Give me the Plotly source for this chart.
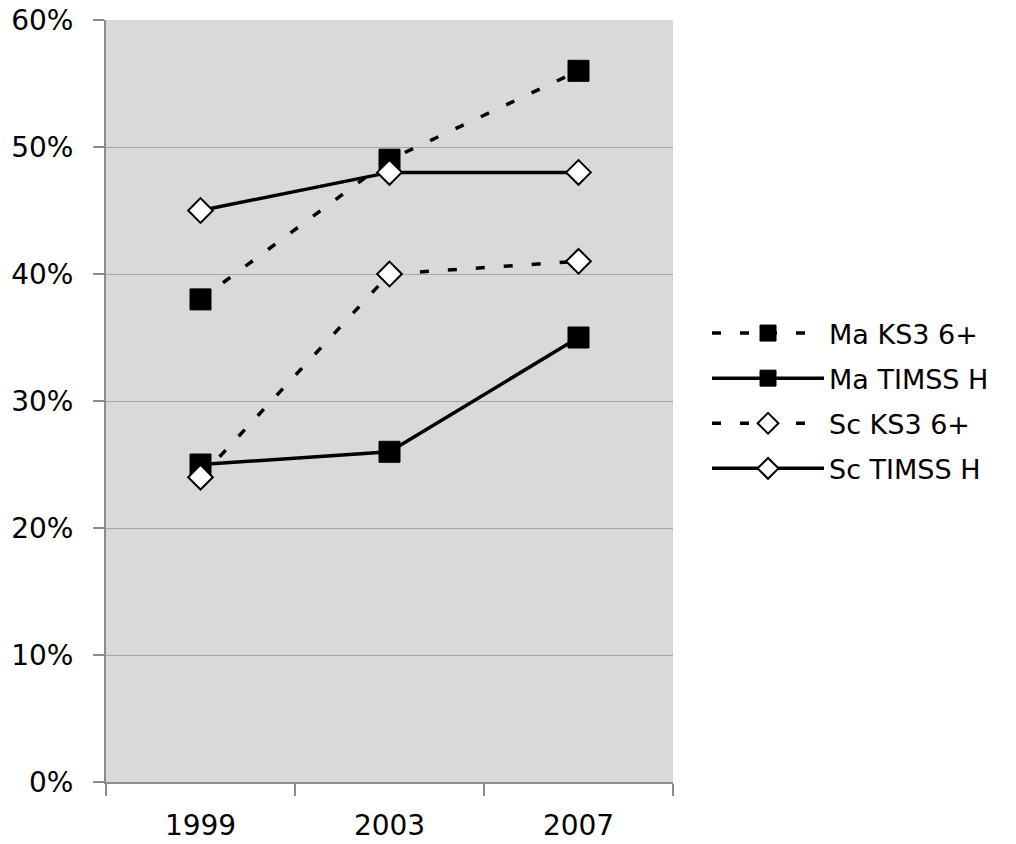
import plotly.graph_objects as go

years = ["1999", "2003", "2007"]
ma_ks3 = [38, 49, 56]
ma_timss = [25, 26, 35]
sc_ks3 = [24, 40, 41]
sc_timss = [45, 48, 48]

FONT = "DejaVu Sans"
fig = go.Figure()

dash = "9px,19px"
fig.add_trace(go.Scatter(
    x=years, y=ma_ks3, name="Ma KS3 6+", mode="lines+markers", legendgroup="a",
    line=dict(color="black", width=3.5, dash=dash),
    marker=dict(symbol="square", size=21, color="black", line=dict(color="black", width=1))))
fig.add_trace(go.Scatter(
    x=years, y=ma_timss, name="Ma TIMSS H", mode="lines+markers", legendgroup="b",
    line=dict(color="black", width=3.5),
    marker=dict(symbol="square", size=21, color="black", line=dict(color="black", width=1))))
fig.add_trace(go.Scatter(
    x=years, y=sc_ks3, name="Sc KS3 6+", mode="lines+markers", legendgroup="c",
    line=dict(color="black", width=3.5, dash=dash),
    marker=dict(symbol="diamond", size=19, color="white", line=dict(color="black", width=2))))
fig.add_trace(go.Scatter(
    x=years, y=sc_timss, name="Sc TIMSS H", mode="lines+markers", legendgroup="d",
    line=dict(color="black", width=3.5),
    marker=dict(symbol="diamond", size=19, color="white", line=dict(color="black", width=2))))

fig.update_layout(
    width=1016, height=844,
    margin=dict(l=106, r=343, t=20, b=62, autoexpand=False),
    paper_bgcolor="white", plot_bgcolor="#d9d9d9",
    font=dict(family=FONT, size=28, color="black"),
    showlegend=True,
    legend=dict(x=1.06, y=0.5, xanchor="left", yanchor="middle",
                font=dict(family=FONT, size=27, color="black"),
                itemwidth=112, tracegroupgap=7, bgcolor="rgba(0,0,0,0)"),
)
fig.update_xaxes(
    type="category", range=[-0.5, 2.5], tickson="boundaries", automargin=False,
    showline=True, linecolor="#8c8c8c", linewidth=2,
    ticks="outside", ticklen=12, tickcolor="#8c8c8c", tickwidth=2,
    showgrid=False, zeroline=False, ticklabelstandoff=17,
    tickfont=dict(family=FONT, size=28, color="black"))
fig.update_yaxes(
    range=[0, 60], dtick=10, ticksuffix="%", automargin=False,
    showline=True, linecolor="#8c8c8c", linewidth=2,
    ticks="outside", ticklen=11, tickcolor="#8c8c8c", tickwidth=2,
    showgrid=True, gridcolor="#a6a6a6", gridwidth=1, zeroline=False,
    ticklabelstandoff=14,
    tickfont=dict(family=FONT, size=28, color="black"))

fig.write_html("out.html")
